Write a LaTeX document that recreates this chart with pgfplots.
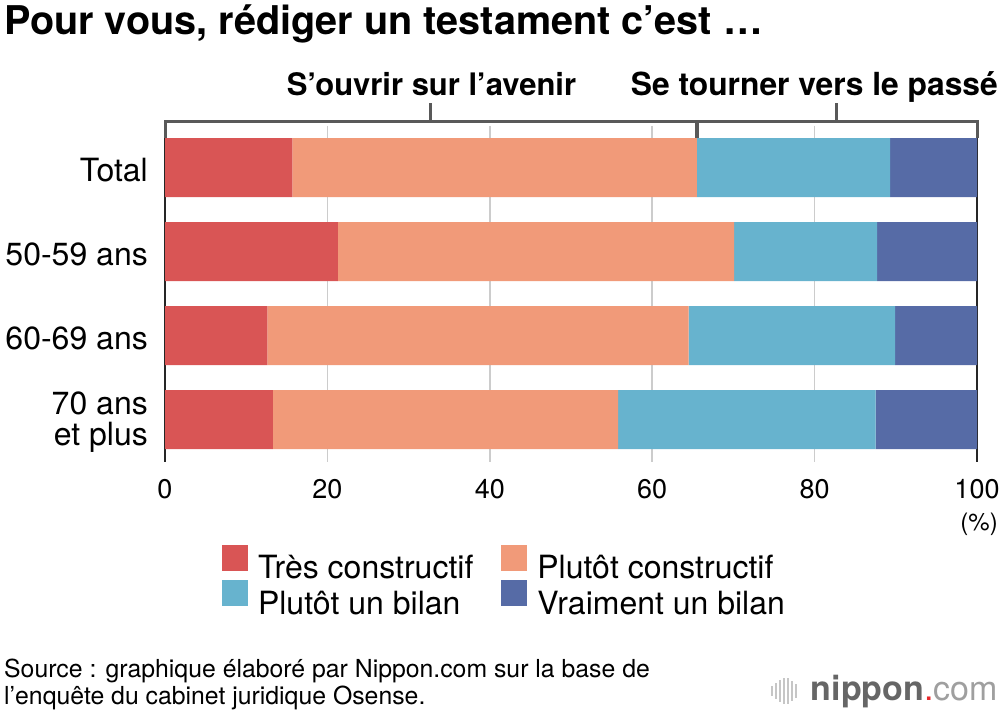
\documentclass[border=0pt]{standalone}
\usepackage{fontspec}
\setmainfont{TeX Gyre Heros}
\usepackage{pgfplots}
\usepackage{pgfplotstable}
\pgfplotsset{compat=1.18}

\definecolor{cRed}{HTML}{D95555}
\definecolor{cOrange}{HTML}{F19A79}
\definecolor{cCyan}{HTML}{67B3CE}
\definecolor{cBlue}{HTML}{566BA6}
\definecolor{brk}{HTML}{595959}
\definecolor{gridc}{HTML}{CCCCCC}
\definecolor{nipgray}{HTML}{666666}
\definecolor{nipred}{HTML}{E8282B}

% parts of each group, in %
\pgfplotstableread{
grp tres plutot bilan vraiment
0 15.7 49.8 23.8 10.7
1 21.3 48.8 17.6 12.3
2 12.6 51.9 25.4 10.1
3 13.3 42.5 31.7 12.5
}\data

\begin{document}
\begin{tikzpicture}[x=1pt,y=1pt]
\path[use as bounding box] (0pt,0pt) rectangle (1000pt,-714pt);

\node[anchor=base west, inner sep=0pt, font=\fontsize{39.6}{41}\selectfont\bfseries]
  at (4pt,-35pt) {Pour vous, rédiger un testament c’est …};

\begin{axis}[
  at={(165pt,-125.5pt)}, anchor=north west,
  width=812pt, height=336pt, scale only axis,
  xbar stacked, bar width=59pt,
  xmin=0, xmax=100, ymin=-0.5, ymax=3.5, y dir=reverse,
  axis line style={draw=none},
  major tick length=0pt,
  ytick={0,1,2,3},
  yticklabels={Total,50-59 ans,60-69 ans,{70 ans\\et plus}},
  yticklabel style={align=right, inner sep=0pt, xshift=-17pt, yshift=-2.5pt,
    font=\fontsize{32}{31}\selectfont},
  xtick={20,40,60,80},
  extra x ticks={0,100},
  extra x tick labels={0,100},
  extra x tick style={grid style={draw=black!85, line width=2pt}},
  xmajorgrids, grid style={draw=gridc, line width=1.5pt},
  xticklabel style={font=\fontsize{27}{27}\selectfont, inner sep=0pt, yshift=-18pt},
  /pgf/number format/assume math mode=true,
  clip=false,
  legend style={at={(axis cs:7,4.49)}, anchor=north west, draw=none, fill=none,
    inner sep=0pt, legend columns=2, font=\fontsize{32}{33}\selectfont,
    nodes={inner sep=0pt},
    /tikz/every odd column/.append style={column sep=10pt},
    /tikz/every even column/.append style={column sep=28pt},
    row sep=0pt},
  legend cell align=left,
  legend image code/.code={\fill[#1] (0pt,-3pt) rectangle (26pt,23pt);},
]
\addplot[fill=cRed, draw=none] table[x=tres, y=grp]{\data};
\addplot[fill=cOrange, draw=none] table[x=plutot, y=grp]{\data};
\addplot[fill=cCyan, draw=none] table[x=bilan, y=grp]{\data};
\addplot[fill=cBlue, draw=none] table[x=vraiment, y=grp]{\data};
\legend{Très constructif, Plutôt constructif, Plutôt un bilan, Vraiment un bilan}

% bracket above the bars
\draw[brk, line width=3pt] (axis cs:0,-0.351) -- (axis cs:0,-0.5536)
  -- (axis cs:100,-0.5536) -- (axis cs:100,-0.351);
\draw[brk, line width=4pt] (axis cs:65.5,-0.5536) -- (axis cs:65.5,-0.351);
\draw[brk, line width=3pt] (axis cs:32.75,-0.5536) -- (axis cs:32.75,-0.768);
\draw[brk, line width=3pt] (axis cs:82.75,-0.5536) -- (axis cs:82.75,-0.768);
\end{axis}

\node[anchor=base, inner sep=0pt, font=\fontsize{31}{32}\selectfont\bfseries]
  at (431.5pt,-96pt) {S’ouvrir sur l’avenir};
\node[anchor=base east, inner sep=0pt, font=\fontsize{31.8}{32}\selectfont\bfseries]
  at (998pt,-96pt) {Se tourner vers le passé};

\node[anchor=base east, inner sep=0pt, font=\fontsize{24}{24}\selectfont]
  at (998pt,-530pt) {(\%)};

\node[anchor=base west, inner sep=0pt, font=\fontsize{24.8}{27}\selectfont]
  at (4pt,-677pt) {Source : graphique élaboré par Nippon.com sur la base de};
\node[anchor=base west, inner sep=0pt, font=\fontsize{24.8}{27}\selectfont]
  at (4pt,-704pt) {l’enquête du cabinet juridique Osense.};

% logo
\foreach \xx/\hh in {772/10,776/16,780/22,784/26,788/26,792/20,796/14}
  \fill[gray!45] (\xx pt-1pt,-691pt-\hh pt/2) rectangle (\xx pt+1pt,-691pt+\hh pt/2);
\node[anchor=base east, inner sep=0pt, font=\fontsize{34}{34}\selectfont]
  at (998pt,-700pt) {{\bfseries\color{nipgray}nippon}{\color{nipred}.}{\color{gray!75}com}};
\end{tikzpicture}
\end{document}
